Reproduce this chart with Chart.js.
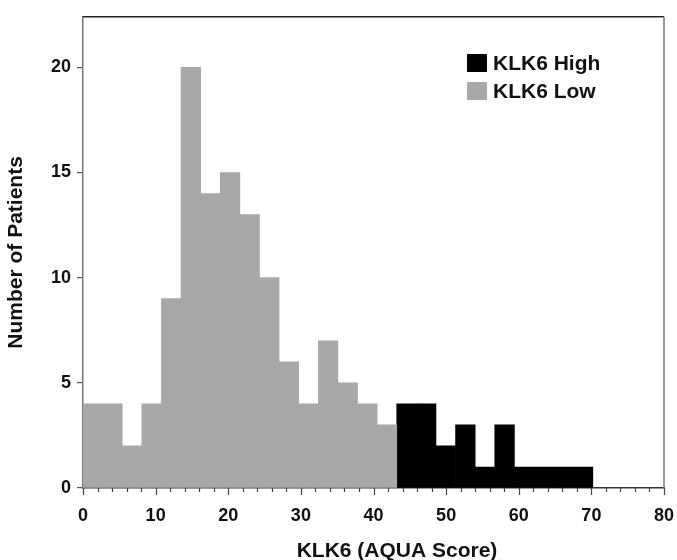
<!DOCTYPE html>
<html>
<head>
<meta charset="utf-8">
<script src="https://cdn.jsdelivr.net/npm/chart.js@4.4.1/dist/chart.umd.min.js"></script>
<style>
  html, body { margin: 0; padding: 0; background: #ffffff; }
  #wrap { width: 677px; height: 560px; position: relative; }
</style>
</head>
<body>
<div id="wrap"><canvas id="c" width="677" height="560"></canvas></div>
<script>
// ---- data ----
const lowLabel = 'KLK6 Low';
const highLabel = 'KLK6 High';
// bin centres (AQUA score), bins are about 2.7 units wide
const lowBinCenters = [1.35, 4.05, 6.75, 9.45, 12.15, 14.85, 17.55, 20.25, 22.95, 25.65, 28.35, 31.05, 33.75, 36.45, 39.15, 41.85];
const lowCounts     = [4, 4, 2, 4, 9, 20, 14, 15, 13, 10, 6, 4, 7, 5, 4, 3];
const highBinCenters = [44.55, 47.25, 49.95, 52.65, 55.35, 58.05, 60.75, 63.45, 66.15, 68.85];
const highCounts     = [4, 4, 2, 3, 1, 3, 1, 1, 1, 1];
const xTickValues = [0, 10, 20, 30, 40, 50, 60, 70, 80];
const yTickValues = [0, 5, 10, 15, 20];
const xTitle = 'KLK6 (AQUA Score)';
const yTitle = 'Number of Patients';

const FONT = "'Liberation Sans', Arial, Helvetica, sans-serif";

const lowData = lowBinCenters.map((x, i) => ({ x: x, y: lowCounts[i] }));
const highData = highBinCenters.map((x, i) => ({ x: x, y: highCounts[i] }));

const framePlugin = {
  id: 'frame',
  afterDraw(chart) {
    const { ctx, chartArea: a, scales } = chart;
    ctx.save();
    // top and right frame lines
    ctx.strokeStyle = '#222';
    ctx.lineWidth = 1.5;
    ctx.beginPath();
    ctx.moveTo(a.left, a.top);
    ctx.lineTo(a.right, a.top);
    ctx.stroke();
    ctx.strokeStyle = '#777';
    ctx.beginPath();
    ctx.moveTo(a.right, a.top);
    ctx.lineTo(a.right, a.bottom);
    ctx.stroke();
    // x tick marks: long at every 10, short at every 2
    const xs = scales.x;
    ctx.strokeStyle = '#444';
    ctx.lineWidth = 1.2;
    for (let v = xs.min; v <= xs.max + 1e-9; v += 2) {
      const px = Math.round(xs.getPixelForValue(v)) + 0.5;
      const len = (Math.abs(v % 10) < 1e-9) ? 7 : 4;
      ctx.beginPath();
      ctx.moveTo(px, a.bottom);
      ctx.lineTo(px, a.bottom + len);
      ctx.stroke();
    }
    // x axis title
    ctx.fillStyle = '#111';
    ctx.font = 'bold 21px ' + FONT;
    ctx.textAlign = 'center';
    ctx.textBaseline = 'alphabetic';
    ctx.fillText(xTitle, 397, 557);
    // legend
    const items = [
      { label: chart.data.datasets[1].label, color: chart.data.datasets[1].backgroundColor, y: 63 },
      { label: chart.data.datasets[0].label, color: chart.data.datasets[0].backgroundColor, y: 91 }
    ];
    ctx.textAlign = 'left';
    ctx.textBaseline = 'middle';
    items.forEach(it => {
      ctx.fillStyle = it.color;
      ctx.fillRect(467, it.y - 9, 20, 18);
      ctx.fillStyle = '#111';
      ctx.fillText(it.label, 493, it.y + 1);
    });
    ctx.restore();
  }
};

new Chart(document.getElementById('c'), {
  type: 'bar',
  data: {
    datasets: [
      { label: lowLabel, data: lowData, backgroundColor: '#a8a8a8', borderWidth: 0,
        barPercentage: 1.0, categoryPercentage: 1.0, grouped: false },
      { label: highLabel, data: highData, backgroundColor: '#000000', borderWidth: 0,
        barPercentage: 1.0, categoryPercentage: 1.0, grouped: false }
    ]
  },
  options: {
    responsive: false,
    animation: false,
    events: [],
    layout: { padding: { top: 14, right: 13, left: 0, bottom: 0 } },
    plugins: {
      legend: { display: false },
      tooltip: { enabled: false },
      title: { display: false }
    },
    scales: {
      x: {
        type: 'linear',
        min: 0,
        max: 80,
        offset: false,
        afterFit(s) { s.height = 72; s.paddingRight = 0; s.paddingLeft = 0; },
        afterBuildTicks(s) { s.ticks = xTickValues.map(v => ({ value: v })); },
        ticks: {
          autoSkip: false,
          maxRotation: 0,
          padding: 10,
          color: '#111',
          font: { family: FONT, size: 18, weight: 'bold' }
        },
        grid: { display: true, offset: false, drawOnChartArea: false, drawTicks: true, tickLength: 7, color: 'rgba(0,0,0,0)' },
        border: { display: true, color: '#333', width: 1.5 },
        title: { display: false }
      },
      y: {
        min: 0,
        max: 22.4,
        afterFit(s) { s.width = 83; },
        afterBuildTicks(s) { s.ticks = yTickValues.map(v => ({ value: v })); },
        ticks: {
          padding: 6,
          color: '#111',
          font: { family: FONT, size: 18, weight: 'bold' }
        },
        grid: { display: true, drawOnChartArea: false, drawTicks: true, tickLength: 6, color: '#555', lineWidth: 1.2 },
        border: { display: true, color: '#777', width: 1.5 },
        title: {
          display: true,
          text: yTitle,
          color: '#111',
          padding: { top: 4, bottom: 0 },
          font: { family: FONT, size: 21, weight: 'bold' }
        }
      }
    }
  },
  plugins: [framePlugin]
});
</script>
</body>
</html>
